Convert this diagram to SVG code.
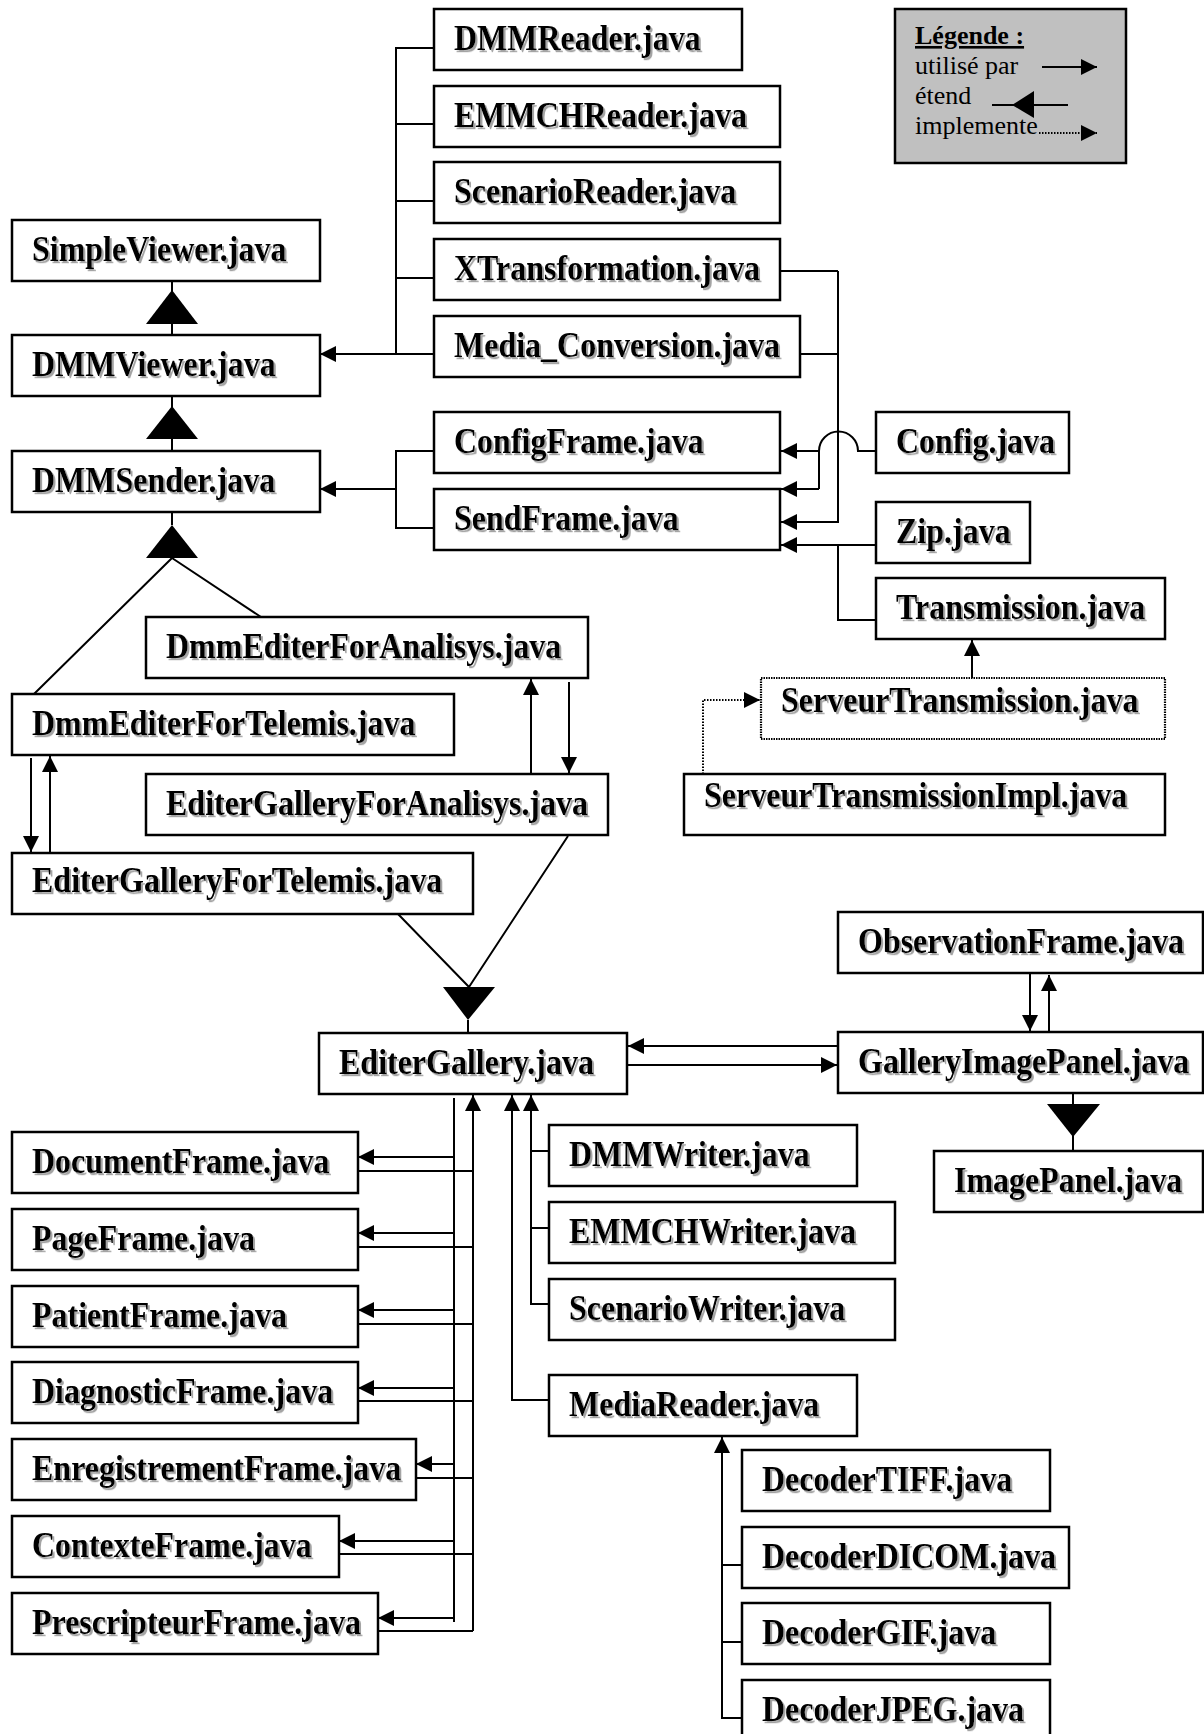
<svg xmlns="http://www.w3.org/2000/svg" width="1204" height="1734" viewBox="0 0 1204 1734">
  <style>
    .box { fill: #ffffff; stroke: #000000; stroke-width: 2.5; }
    .dotbox { fill: #ffffff; stroke: #000000; stroke-width: 2.2; stroke-dasharray: 1.5 1; }
    .t { font-family: "Liberation Serif", "Times New Roman", serif; font-weight: bold; font-size: 32px; fill: #000000; filter: url(#sh); }
    .lg { font-family: "Liberation Serif", "Times New Roman", serif; font-size: 26px; fill: #000000; }
    .ln { fill: none; stroke: #000000; stroke-width: 2; }
    .use { marker-end: url(#arr); }
    .dot { stroke-dasharray: 1.5 1.5; }
    .tri { fill: #000000; stroke: none; }
  </style>
  <defs>
    <filter id="sh" x="-5%" y="-20%" width="110%" height="150%">
      <feDropShadow dx="2" dy="2" stdDeviation="0.7" flood-color="#9a9a9a" flood-opacity="0.9"/>
    </filter>
    <marker id="arr" markerUnits="userSpaceOnUse" markerWidth="16" markerHeight="16" refX="16" refY="8" orient="auto">
      <path d="M0,0 L16,8 L0,16 Z" fill="#000000"/>
    </marker>
  </defs>

  <rect width="1204" height="1734" fill="#ffffff"/>

  <!-- connectors -->
  <g id="connectors">
    <!-- readers used by DMMViewer -->
    <path class="ln" d="M434,48 H396 V354 M434,124 H396 M434,201 H396 M434,278 H396"/>
    <path class="ln use" d="M434,354 H320"/>
    <!-- inheritance chain SimpleViewer / DMMViewer / DMMSender -->
    <path class="ln" d="M172,282 V335"/>
    <polygon class="tri" points="172,290 146,324 198,324"/>
    <path class="ln" d="M172,397 V451"/>
    <polygon class="tri" points="172,406 146,439 198,439"/>
    <path class="ln" d="M172,512 V525 M172,558 L34,694 M172,558 L261,617"/>
    <polygon class="tri" points="172,525 146,558 198,558"/>
    <!-- frames used by DMMSender -->
    <path class="ln" d="M434,451 H396 V528 H434"/>
    <path class="ln use" d="M396,489 H320"/>
    <!-- XTransformation / Media_Conversion used by SendFrame -->
    <path class="ln" d="M780,271 H838 M800,354 H838"/>
    <path class="ln use" d="M838,271 V522 H781"/>
    <!-- Config.java with hop over the vertical line -->
    <path class="ln" d="M876,451 H858 A19.5,19.5 0 0 0 819,451 V489"/>
    <path class="ln use" d="M819,451 H781"/>
    <path class="ln use" d="M819,489 H781"/>
    <!-- Zip / Transmission used by SendFrame -->
    <path class="ln use" d="M876,545 H781"/>
    <path class="ln" d="M838,545 V620 H876"/>
    <path class="ln use" d="M972,678 V640"/>
    <!-- implementation (dotted) -->
    <path class="ln dot use" d="M703,774 V700 H760"/>
    <!-- Analisys pair -->
    <path class="ln use" d="M531,774 V679"/>
    <path class="ln use" d="M569,682 V773"/>
    <!-- Telemis pair -->
    <path class="ln use" d="M31,758 V852"/>
    <path class="ln use" d="M50,853 V756"/>
    <!-- inheritance to EditerGallery -->
    <path class="ln" d="M398,914 L469,987 M568,836 L469,987 M468,1020 V1033"/>
    <polygon class="tri" points="443,987 495,987 468,1020"/>
    <!-- EditerGallery / GalleryImagePanel -->
    <path class="ln use" d="M838,1046 H628"/>
    <path class="ln use" d="M627,1065 H837"/>
    <path class="ln use" d="M1030,974 V1031"/>
    <path class="ln use" d="M1049,1032 V975"/>
    <path class="ln" d="M1073,1092 V1151"/>
    <polygon class="tri" points="1047,1104 1100,1104 1073,1137"/>
    <!-- EditerGallery used by frames -->
    <path class="ln" d="M454,1098 V1622"/>
    <path class="ln use" d="M454,1157 H358"/>
    <path class="ln use" d="M454,1233 H358"/>
    <path class="ln use" d="M454,1310 H358"/>
    <path class="ln use" d="M454,1388 H358"/>
    <path class="ln use" d="M454,1464 H416"/>
    <path class="ln use" d="M454,1541 H339"/>
    <path class="ln use" d="M454,1618 H378"/>
    <!-- frames used by EditerGallery -->
    <path class="ln use" d="M473,1631 V1095"/>
    <path class="ln" d="M358,1171 H473 M358,1247 H473 M358,1324 H473 M358,1401 H473 M416,1478 H473 M339,1554 H473 M378,1631 H473"/>
    <!-- MediaReader and writers used by EditerGallery -->
    <path class="ln use" d="M549,1400 H512 V1095"/>
    <path class="ln use" d="M549,1304 H531 V1095"/>
    <path class="ln" d="M549,1151 H531 M549,1228 H531"/>
    <!-- decoders used by MediaReader -->
    <path class="ln use" d="M742,1718 H722 V1437"/>
    <path class="ln" d="M742,1565 H722 M742,1642 H722"/>
  </g>

  <!-- nodes (labels slightly stretched vertically) -->
  <g id="n-dmmreader"><rect class="box" x="434" y="9" width="308" height="61"/><text class="t" transform="translate(454 50) scale(1 1.1)">DMMReader.java</text></g>
  <g id="n-emmchreader"><rect class="box" x="434" y="86" width="346" height="61"/><text class="t" transform="translate(454 127) scale(1 1.1)">EMMCHReader.java</text></g>
  <g id="n-scenarioreader"><rect class="box" x="434" y="162" width="346" height="61"/><text class="t" transform="translate(454 203) scale(1 1.1)">ScenarioReader.java</text></g>
  <g id="n-xtransformation"><rect class="box" x="434" y="239" width="346" height="61"/><text class="t" transform="translate(454 280) scale(1 1.1)">XTransformation.java</text></g>
  <g id="n-mediaconversion"><rect class="box" x="434" y="316" width="366" height="61"/><text class="t" transform="translate(454 357) scale(1 1.1)">Media_Conversion.java</text></g>
  <g id="n-simpleviewer"><rect class="box" x="12" y="220" width="308" height="61"/><text class="t" transform="translate(32 261) scale(1 1.1)">SimpleViewer.java</text></g>
  <g id="n-dmmviewer"><rect class="box" x="12" y="335" width="308" height="61"/><text class="t" transform="translate(32 376) scale(1 1.1)">DMMViewer.java</text></g>
  <g id="n-dmmsender"><rect class="box" x="12" y="451" width="308" height="61"/><text class="t" transform="translate(32 492) scale(1 1.1)">DMMSender.java</text></g>
  <g id="n-configframe"><rect class="box" x="434" y="412" width="346" height="61"/><text class="t" transform="translate(454 453) scale(1 1.1)">ConfigFrame.java</text></g>
  <g id="n-sendframe"><rect class="box" x="434" y="489" width="346" height="61"/><text class="t" transform="translate(454 530) scale(1 1.1)">SendFrame.java</text></g>
  <g id="n-config"><rect class="box" x="876" y="412" width="193" height="61"/><text class="t" transform="translate(896 453) scale(1 1.1)">Config.java</text></g>
  <g id="n-zip"><rect class="box" x="876" y="502" width="154" height="61"/><text class="t" transform="translate(896 543) scale(1 1.1)">Zip.java</text></g>
  <g id="n-transmission"><rect class="box" x="876" y="578" width="289" height="61"/><text class="t" transform="translate(896 619) scale(1 1.1)">Transmission.java</text></g>
  <g id="n-serveurtransmission"><rect class="dotbox" x="761" y="678" width="404" height="61"/><text class="t" transform="translate(781 712) scale(1 1.1)">ServeurTransmission.java</text></g>
  <g id="n-serveurtransmissionimpl"><rect class="box" x="684" y="774" width="481" height="61"/><text class="t" transform="translate(704 807) scale(1 1.1)">ServeurTransmissionImpl.java</text></g>
  <g id="n-dmmediterforanalisys"><rect class="box" x="146" y="617" width="442" height="61"/><text class="t" transform="translate(166 658) scale(1 1.1)">DmmEditerForAnalisys.java</text></g>
  <g id="n-dmmediterfortelemis"><rect class="box" x="12" y="694" width="442" height="61"/><text class="t" transform="translate(32 735) scale(1 1.1)">DmmEditerForTelemis.java</text></g>
  <g id="n-editergalleryforanalisys"><rect class="box" x="146" y="774" width="462" height="61"/><text class="t" transform="translate(166 815) scale(1 1.1)">EditerGalleryForAnalisys.java</text></g>
  <g id="n-editergalleryfortelemis"><rect class="box" x="12" y="853" width="461" height="61"/><text class="t" transform="translate(32 892) scale(1 1.1)">EditerGalleryForTelemis.java</text></g>
  <g id="n-editergallery"><rect class="box" x="319" y="1033" width="308" height="61"/><text class="t" transform="translate(339 1074) scale(1 1.1)">EditerGallery.java</text></g>
  <g id="n-observationframe"><rect class="box" x="838" y="912" width="365" height="61"/><text class="t" transform="translate(858 953) scale(1 1.1)">ObservationFrame.java</text></g>
  <g id="n-galleryimagepanel"><rect class="box" x="838" y="1032" width="365" height="61"/><text class="t" transform="translate(858 1073) scale(1 1.1)">GalleryImagePanel.java</text></g>
  <g id="n-imagepanel"><rect class="box" x="934" y="1151" width="269" height="61"/><text class="t" transform="translate(954 1192) scale(1 1.1)">ImagePanel.java</text></g>
  <g id="n-dmmwriter"><rect class="box" x="549" y="1125" width="308" height="61"/><text class="t" transform="translate(569 1166) scale(1 1.1)">DMMWriter.java</text></g>
  <g id="n-emmchwriter"><rect class="box" x="549" y="1202" width="346" height="61"/><text class="t" transform="translate(569 1243) scale(1 1.1)">EMMCHWriter.java</text></g>
  <g id="n-scenariowriter"><rect class="box" x="549" y="1279" width="346" height="61"/><text class="t" transform="translate(569 1320) scale(1 1.1)">ScenarioWriter.java</text></g>
  <g id="n-mediareader"><rect class="box" x="549" y="1375" width="308" height="61"/><text class="t" transform="translate(569 1416) scale(1 1.1)">MediaReader.java</text></g>
  <g id="n-decodertiff"><rect class="box" x="742" y="1450" width="308" height="61"/><text class="t" transform="translate(762 1491) scale(1 1.1)">DecoderTIFF.java</text></g>
  <g id="n-decoderdicom"><rect class="box" x="742" y="1527" width="327" height="61"/><text class="t" transform="translate(762 1568) scale(1 1.1)">DecoderDICOM.java</text></g>
  <g id="n-decodergif"><rect class="box" x="742" y="1603" width="308" height="61"/><text class="t" transform="translate(762 1644) scale(1 1.1)">DecoderGIF.java</text></g>
  <g id="n-decoderjpeg"><rect class="box" x="742" y="1680" width="308" height="61"/><text class="t" transform="translate(762 1721) scale(1 1.1)">DecoderJPEG.java</text></g>
  <g id="n-documentframe"><rect class="box" x="12" y="1132" width="346" height="61"/><text class="t" transform="translate(32 1173) scale(1 1.1)">DocumentFrame.java</text></g>
  <g id="n-pageframe"><rect class="box" x="12" y="1209" width="346" height="61"/><text class="t" transform="translate(32 1250) scale(1 1.1)">PageFrame.java</text></g>
  <g id="n-patientframe"><rect class="box" x="12" y="1286" width="346" height="61"/><text class="t" transform="translate(32 1327) scale(1 1.1)">PatientFrame.java</text></g>
  <g id="n-diagnosticframe"><rect class="box" x="12" y="1362" width="346" height="61"/><text class="t" transform="translate(32 1403) scale(1 1.1)">DiagnosticFrame.java</text></g>
  <g id="n-enregistrementframe"><rect class="box" x="12" y="1439" width="404" height="61"/><text class="t" transform="translate(32 1480) scale(1 1.1)">EnregistrementFrame.java</text></g>
  <g id="n-contexteframe"><rect class="box" x="12" y="1516" width="327" height="61"/><text class="t" transform="translate(32 1557) scale(1 1.1)">ContexteFrame.java</text></g>
  <g id="n-prescripteurframe"><rect class="box" x="12" y="1593" width="366" height="61"/><text class="t" transform="translate(32 1634) scale(1 1.1)">PrescripteurFrame.java</text></g>

  <!-- legend -->
  <g id="legend">
    <rect x="895" y="9" width="231" height="154" fill="#c0c0c0" stroke="#000000" stroke-width="2.5"/>
    <text class="lg" x="915" y="44" font-weight="bold" text-decoration="underline">Légende :</text>
    <text class="lg" x="915" y="74">utilisé par</text>
    <path class="ln use" d="M1042,67 H1097"/>
    <text class="lg" x="915" y="104">étend</text>
    <path class="ln" d="M992,105 H1068"/>
    <polygon class="tri" points="1012,105 1034,91 1034,118"/>
    <text class="lg" x="915" y="134">implemente</text>
    <path class="ln dot use" d="M1039,133 H1097"/>
  </g>
</svg>
